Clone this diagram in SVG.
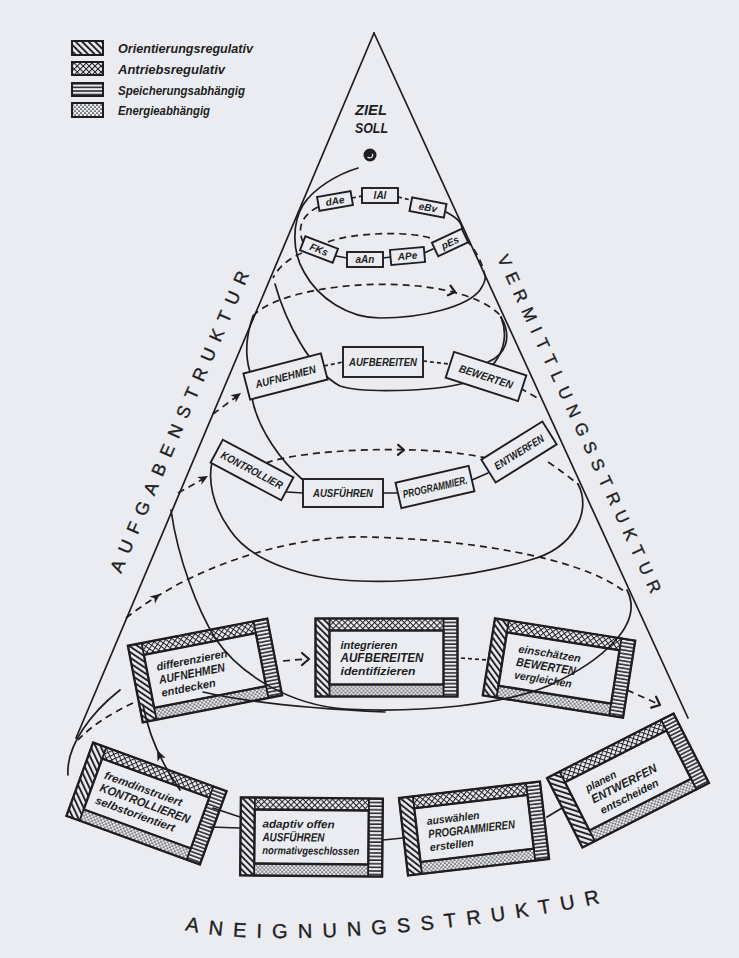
<svg xmlns="http://www.w3.org/2000/svg" width="739" height="958" viewBox="0 0 739 958">
<style>
  .ln{fill:none;stroke:#1e1e22;stroke-width:1.7;stroke-linecap:round}
  .dl{fill:none;stroke:#1e1e22;stroke-width:1.7;stroke-dasharray:7 5}
  .ds{fill:none;stroke:#1e1e22;stroke-width:1.7;stroke-dasharray:4 3}
  .chev{fill:none;stroke:#1e1e22;stroke-width:2.2;stroke-linecap:round;stroke-linejoin:round}
  .head{fill:#1e1e22;stroke:none}
  .fr{fill:none;stroke:#1e1e22;stroke-width:2.3}
  .bd{stroke:#1e1e22;stroke-width:1.5}
  .bx{fill:#eaecf1;stroke:#1e1e22;stroke-width:1.9}
  .lbl{font-family:"Liberation Sans",Arial,sans-serif;font-style:italic;font-weight:bold;fill:#1e1e22}
  .cap{font-family:"Liberation Sans",Arial,sans-serif;fill:#1e1e22;stroke:#1e1e22;stroke-width:0.35}
</style>
<defs>
  <pattern id="pHatch" width="4.6" height="4.6" patternUnits="userSpaceOnUse" patternTransform="rotate(-45)">
    <line x1="1" y1="0" x2="1" y2="4.6" stroke="#1e1e22" stroke-width="1.9"/>
  </pattern>
  <pattern id="pCross" width="4.2" height="4.2" patternUnits="userSpaceOnUse" patternTransform="rotate(45)">
    <line x1="0" y1="0" x2="0" y2="4.2" stroke="#1e1e22" stroke-width="2"/>
    <line x1="0" y1="0" x2="4.2" y2="0" stroke="#1e1e22" stroke-width="2"/>
  </pattern>
  <pattern id="pLines" width="6" height="3.6" patternUnits="userSpaceOnUse">
    <line x1="0" y1="1" x2="6" y2="1" stroke="#1e1e22" stroke-width="1.5"/>
  </pattern>
  <pattern id="pDots" width="4" height="4" patternUnits="userSpaceOnUse">
    <circle cx="1" cy="1" r="0.85" fill="#1e1e22"/>
    <circle cx="3" cy="3" r="0.85" fill="#1e1e22"/>
  </pattern>
  <!-- framed activity box: hatched left, braided top, lined right, dotted bottom -->
  <g id="frame">
    <rect x="-71" y="-39" width="14" height="78" fill="url(#pHatch)" class="bd"/>
    <rect x="57" y="-39" width="14" height="78" fill="url(#pLines)" class="bd"/>
    <rect x="-57" y="-39" width="114" height="12" fill="url(#pCross)" class="bd"/>
    <rect x="-57" y="27" width="114" height="12" fill="url(#pDots)" class="bd"/>
    <rect x="-71" y="-39" width="142" height="78" class="fr"/>
    <rect x="-57" y="-27" width="114" height="54" class="fr"/>
  </g>
  <path id="baseArc" d="M185,930 C260,948 450,935 600,903"/>
</defs>

<rect width="739" height="958" fill="#eaecf1"/>

<!-- legend -->
<g id="legend">
  <rect x="72" y="41" width="31" height="14" fill="url(#pHatch)" stroke="#1e1e22" stroke-width="2"/>
  <rect x="72" y="62" width="31" height="13" fill="url(#pCross)" stroke="#1e1e22" stroke-width="2"/>
  <rect x="72" y="83" width="31" height="13" fill="url(#pLines)" stroke="#1e1e22" stroke-width="2"/>
  <rect x="72" y="103" width="31" height="14" fill="url(#pDots)" stroke="#1e1e22" stroke-width="2"/>
  <text class="lbl" x="118" y="53" font-size="12" textLength="135" lengthAdjust="spacingAndGlyphs">Orientierungsregulativ</text>
  <text class="lbl" x="118" y="74" font-size="12" textLength="107" lengthAdjust="spacingAndGlyphs">Antriebsregulativ</text>
  <text class="lbl" x="118" y="95" font-size="12" textLength="127" lengthAdjust="spacingAndGlyphs">Speicherungsabhängig</text>
  <text class="lbl" x="118" y="115" font-size="12" textLength="92" lengthAdjust="spacingAndGlyphs">Energieabhängig</text>
</g>

<!-- structure labels -->
<g id="labels">
  <text class="cap" transform="translate(121,574) rotate(-66.8)" font-size="18" textLength="326" lengthAdjust="spacing">AUFGABENSTRUKTUR</text>
  <text class="cap" transform="translate(497,258) rotate(65.4)" font-size="17" textLength="370" lengthAdjust="spacing">VERMITTLUNGSSTRUKTUR</text>
  <text class="cap" font-size="20"><textPath href="#baseArc" textLength="418" lengthAdjust="spacing">ANEIGNUNGSSTRUKTUR</textPath></text>
  <text class="lbl" x="355" y="115" font-size="14" textLength="32" lengthAdjust="spacingAndGlyphs">ZIEL</text>
  <text class="lbl" x="355" y="133" font-size="14" textLength="33" lengthAdjust="spacingAndGlyphs">SOLL</text>
</g>

<!-- connectors and cone outline -->
<g id="connectors">
  <path class="ln" d="M374,33 L76,738"/>
  <path class="ln" d="M374,33 L688,718"/>
  <!-- goal point and its tail -->
  <path class="ln" d="M358,168 C338,174 314,188 303,205 C292,223 292,252 304,272 C318,298 348,318 380,318 C425,318 468,306 480,290 C484,284 486,280 485,276"/>
  <!-- innermost ring -->
  <path class="ds" d="M352,198 L362,196"/>
  <path class="ds" d="M398,197 L411,200"/>
  <path class="dl" d="M318,207 C304,214 296,226 303,242"/>
  <path class="ln" d="M446,212 C458,218 462,224 462,229"/>
  <path class="ln" d="M336,256 L347,258"/>
  <path class="ln" d="M383,258 L391,257"/>
  <path class="ln" d="M424,253 L433,249"/>
  <path class="dl" d="M328,242 C350,233 410,230 433,239"/>
  <path class="dl" d="M302,253 C290,258 279,266 273,278"/>
  <path class="dl" d="M466,240 C476,250 482,262 485,276"/>
  <!-- second ring -->
  <path class="ln" d="M275,284 C285,320 310,370 340,386 C360,393 430,392 465,383 C495,373 512,345 501,317"/>
  <path class="dl" d="M253,316 C285,280 455,268 501,316"/>
  <path class="chev" transform="translate(455,292) rotate(15)" d="M-6,-5 L0,0 L-6,5"/>
  <path class="ln" d="M253,316 C246,336 245,356 250,372"/>
  <path class="ln" d="M501,317 C513,338 505,355 488,362"/>
  <path class="ds" d="M324,366 L343,362"/>
  <path class="ds" d="M423,361 L449,364"/>
  <path class="dl" d="M520,388 L541,400"/>
  <path class="dl" d="M213,414 L236,397"/>
  <path class="head" transform="translate(241,393) rotate(-36.5)" d="M0,0 L-10,-4.5 L-7,0 L-10,4.5 Z"/>
  <path class="ln" d="M287,492 L303,493"/>
  <path class="ln" d="M383,493 L398,493"/>
  <path class="ln" d="M472,480 L488,473"/>
  <path class="dl" d="M266,463 C300,450 420,443 486,458"/>
  <path class="chev" transform="translate(404,450) rotate(1)" d="M-6,-5 L0,0 L-6,5"/>
  <path class="dl" d="M178,493 L203,479"/>
  <path class="head" transform="translate(208,476) rotate(-29)" d="M0,0 L-10,-4.5 L-7,0 L-10,4.5 Z"/>
  <path class="dl" d="M548,462 C560,470 570,478 578,484"/>
  <path class="ln" d="M578,484 C592,510 575,548 530,560 C470,578 400,583 360,581 C300,579 250,560 230,530 C212,505 208,480 212,462"/>
  <path class="ln" d="M252,398 C258,430 282,462 303,480"/>
  <!-- outer ring -->
  <path class="dl" d="M126,618 C200,560 300,535 367,537 C460,539 580,556 625,592"/>
  <path class="head" transform="translate(160,594) rotate(-38)" d="M0,0 L-10,-4.5 L-7,0 L-10,4.5 Z"/>
  <path class="ln" d="M171,510 C178,560 198,610 215,638 C240,675 290,705 345,709 C420,713 505,705 550,685 C600,662 645,625 627,590"/>
  <path class="ln" d="M203,692 C250,703 320,709 385,712"/>
  <path class="dl" d="M283,661 L306,659"/>
  <path class="chev" transform="translate(309,659)" d="M-7,-6 L0,0 L-7,6"/>
  <path class="ds" d="M461,658 L488,660"/>
  <path class="dl" d="M627,690 L656,703"/>
  <path class="chev" transform="translate(660,705) rotate(24)" d="M-7,-6 L0,0 L-7,6"/>
  <path class="dl" d="M133,703 C112,713 92,725 78,740"/>
  <path class="ln" d="M180,790 C166,770 150,742 143,705"/>
  <path class="head" transform="translate(157,750) rotate(-115)" d="M0,0 L-11,-4.5 L-8,0 L-11,4.5 Z"/>
  <path class="ln" d="M68,775 C66,745 92,712 120,690"/>
  <path class="ln" d="M213,808 L240,817"/>
  <path class="ln" d="M210,827 L240,828"/>
  <path class="ln" d="M383,840 L403,838"/>
  <path class="ln" d="M547,817 L562,808"/>
</g>

<!-- goal point -->
<g id="goal">
  <circle cx="370" cy="155" r="6.5" fill="#1e1e22"/>
  <path d="M367.5,157 a2.8,2.2 0 1,0 4.5,-3" fill="none" stroke="#eaecf1" stroke-width="1.2"/>
</g>

<!-- innermost ring nodes -->
<g id="n-dAe" transform="translate(335,201) rotate(-10)"><rect class="bx" x="-17" y="-7" width="34" height="14"/><text class="lbl" x="0" y="3.5" font-size="10" text-anchor="middle">dAe</text></g>
<g id="n-lAl" transform="translate(380,195.5)"><rect class="bx" x="-18" y="-7.5" width="36" height="15"/><text class="lbl" x="0" y="3.5" font-size="10" text-anchor="middle">lAl</text></g>
<g id="n-eBv" transform="translate(428,207.5) rotate(11)"><rect class="bx" x="-17.5" y="-7" width="35" height="14"/><text class="lbl" x="0" y="3.5" font-size="10" text-anchor="middle">eBv</text></g>
<g id="n-FKs" transform="translate(319,249.5) rotate(21)"><rect class="bx" x="-17.5" y="-7.5" width="35" height="15"/><text class="lbl" x="0" y="3.5" font-size="10" text-anchor="middle">FKs</text></g>
<g id="n-aAn" transform="translate(365,259.5)"><rect class="bx" x="-18" y="-7.5" width="36" height="15"/><text class="lbl" x="0" y="3.5" font-size="10" text-anchor="middle">aAn</text></g>
<g id="n-APe" transform="translate(407.5,256) rotate(-5)"><rect class="bx" x="-17" y="-7.5" width="34" height="15"/><text class="lbl" x="0" y="3.5" font-size="10" text-anchor="middle">APe</text></g>
<g id="n-pEs" transform="translate(450,242.5) rotate(-25)"><rect class="bx" x="-16.5" y="-7.5" width="33" height="15"/><text class="lbl" x="0" y="3.5" font-size="10" text-anchor="middle">pEs</text></g>

<!-- second ring nodes -->
<g id="n-aufnehmen" transform="translate(285.5,376.5) rotate(-14.5)"><rect class="bx" x="-40" y="-13.5" width="80" height="27"/><text class="lbl" x="0" y="4" font-size="11" text-anchor="middle" textLength="62" lengthAdjust="spacingAndGlyphs">AUFNEHMEN</text></g>
<g id="n-aufbereiten" transform="translate(383,362)"><rect class="bx" x="-40" y="-15" width="80" height="30"/><text class="lbl" x="0" y="4" font-size="11" text-anchor="middle" textLength="68" lengthAdjust="spacingAndGlyphs">AUFBEREITEN</text></g>
<g id="n-bewerten" transform="translate(486,376.5) rotate(18)"><rect class="bx" x="-38" y="-13.5" width="76" height="27"/><text class="lbl" x="0" y="4" font-size="11" text-anchor="middle" textLength="56" lengthAdjust="spacingAndGlyphs">BEWERTEN</text></g>
<g id="n-kontrollier" transform="translate(252,470) rotate(28)"><rect class="bx" x="-40" y="-13" width="80" height="26"/><text class="lbl" x="0" y="4" font-size="11" text-anchor="middle" textLength="68" lengthAdjust="spacingAndGlyphs">KONTROLLIER</text></g>
<g id="n-ausfuehren" transform="translate(343,493)"><rect class="bx" x="-40" y="-14" width="80" height="28"/><text class="lbl" x="0" y="4" font-size="11" text-anchor="middle" textLength="60" lengthAdjust="spacingAndGlyphs">AUSFÜHREN</text></g>
<g id="n-programmier" transform="translate(435,487) rotate(-13)"><rect class="bx" x="-37.5" y="-13" width="75" height="26"/><text class="lbl" x="0" y="4" font-size="11" text-anchor="middle" textLength="66" lengthAdjust="spacingAndGlyphs">PROGRAMMIER.</text></g>
<g id="n-entwerfen" transform="translate(519,452) rotate(-32)"><rect class="bx" x="-36" y="-13.5" width="72" height="27"/><text class="lbl" x="0" y="4" font-size="11" text-anchor="middle" textLength="56" lengthAdjust="spacingAndGlyphs">ENTWERFEN</text></g>

<!-- outer ring nodes -->
<g id="n-differenzieren" transform="translate(205,670.5) rotate(-11)">
  <use href="#frame"/>
  <text class="lbl" x="-47" y="-9" font-size="11" textLength="72" lengthAdjust="spacingAndGlyphs">differenzieren</text>
  <text class="lbl" x="-47" y="4.5" font-size="12" textLength="67" lengthAdjust="spacingAndGlyphs">AUFNEHMEN</text>
  <text class="lbl" x="-47" y="17.5" font-size="11" textLength="55" lengthAdjust="spacingAndGlyphs">entdecken</text>
</g>
<g id="n-integrieren" transform="translate(386.5,657.5)">
  <use href="#frame"/>
  <text class="lbl" x="-46" y="-9" font-size="11" textLength="57" lengthAdjust="spacingAndGlyphs">integrieren</text>
  <text class="lbl" x="-46" y="4.5" font-size="12" textLength="83" lengthAdjust="spacingAndGlyphs">AUFBEREITEN</text>
  <text class="lbl" x="-46" y="17.5" font-size="11" textLength="75" lengthAdjust="spacingAndGlyphs">identifizieren</text>
</g>
<g id="n-einschaetzen" transform="translate(559,668) rotate(9)">
  <use href="#frame"/>
  <text class="lbl" x="-43" y="-9" font-size="11" textLength="63" lengthAdjust="spacingAndGlyphs">einschätzen</text>
  <text class="lbl" x="-43" y="4.5" font-size="12" textLength="60" lengthAdjust="spacingAndGlyphs">BEWERTEN</text>
  <text class="lbl" x="-43" y="17.5" font-size="11" textLength="58" lengthAdjust="spacingAndGlyphs">vergleichen</text>
</g>
<g id="n-kontrollieren" transform="translate(146.5,803.5) rotate(20)">
  <use href="#frame"/>
  <text class="lbl" x="-49" y="-9" font-size="11" textLength="82" lengthAdjust="spacingAndGlyphs">fremdinstruiert</text>
  <text class="lbl" x="-49" y="4.5" font-size="12" textLength="95" lengthAdjust="spacingAndGlyphs">KONTROLLIEREN</text>
  <text class="lbl" x="-49" y="17.5" font-size="11" textLength="84" lengthAdjust="spacingAndGlyphs">selbstorientiert</text>
</g>
<g id="n-ausfuehren-big" transform="translate(311.5,837) rotate(0.5)">
  <use href="#frame"/>
  <text class="lbl" x="-49" y="-9" font-size="11" textLength="72" lengthAdjust="spacingAndGlyphs">adaptiv offen</text>
  <text class="lbl" x="-49" y="4.5" font-size="12" textLength="62" lengthAdjust="spacingAndGlyphs">AUSFÜHREN</text>
  <text class="lbl" x="-49" y="17.5" font-size="11" textLength="97" lengthAdjust="spacingAndGlyphs">normativgeschlossen</text>
</g>
<g id="n-programmieren" transform="translate(474,828.5) rotate(-6.7)">
  <use href="#frame"/>
  <text class="lbl" x="-46" y="-9" font-size="11" textLength="53" lengthAdjust="spacingAndGlyphs">auswählen</text>
  <text class="lbl" x="-46" y="4.5" font-size="12" textLength="87" lengthAdjust="spacingAndGlyphs">PROGRAMMIEREN</text>
  <text class="lbl" x="-46" y="17.5" font-size="11" textLength="44" lengthAdjust="spacingAndGlyphs">erstellen</text>
</g>
<g id="n-entwerfen-big" transform="translate(628,780.5) rotate(-27)">
  <use href="#frame"/>
  <text class="lbl" x="-41" y="-8" font-size="11" textLength="33" lengthAdjust="spacingAndGlyphs">planen</text>
  <text class="lbl" x="-41" y="5" font-size="12" textLength="72" lengthAdjust="spacingAndGlyphs">ENTWERFEN</text>
  <text class="lbl" x="-38" y="18.5" font-size="11" textLength="64" lengthAdjust="spacingAndGlyphs">entscheiden</text>
</g>
</svg>
